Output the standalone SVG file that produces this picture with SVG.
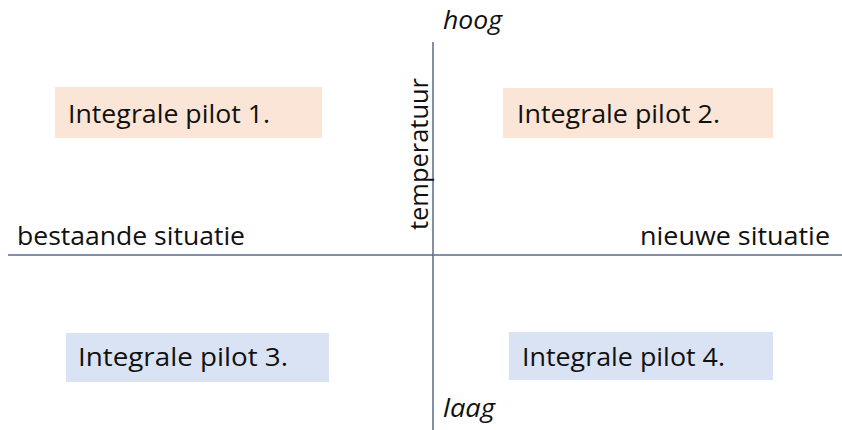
<svg xmlns="http://www.w3.org/2000/svg" width="842" height="430" viewBox="0 0 842 430">
  <style>
    text { font-family: "Open Sans", "Liberation Sans", sans-serif; font-size: 25px; fill: #111111; }
    .it { font-style: italic; }
    .warm { fill: #fbe5d6; }
    .cool { fill: #dae3f3; }
    .axis { stroke: #5b6b8c; stroke-width: 1.5; fill: none; }
  </style>
  <rect width="842" height="430" fill="#ffffff"/>
  <g id="connectors">
    <line class="axis" x1="8" y1="255" x2="842" y2="255"/>
    <line class="axis" x1="433" y1="42" x2="433" y2="430"/>
  </g>
  <g id="pilot1">
    <rect class="warm" x="55" y="87" width="267" height="51"/>
    <text x="68" y="123" textLength="202" lengthAdjust="spacingAndGlyphs">Integrale pilot 1.</text>
  </g>
  <g id="pilot2">
    <rect class="warm" x="503" y="88" width="270" height="50"/>
    <text x="517" y="123" textLength="203" lengthAdjust="spacingAndGlyphs">Integrale pilot 2.</text>
  </g>
  <g id="pilot3">
    <rect class="cool" x="66" y="333" width="263" height="49"/>
    <text x="78" y="366" textLength="210" lengthAdjust="spacingAndGlyphs">Integrale pilot 3.</text>
  </g>
  <g id="pilot4">
    <rect class="cool" x="509" y="332" width="264" height="48"/>
    <text x="522" y="366" textLength="203" lengthAdjust="spacingAndGlyphs">Integrale pilot 4.</text>
  </g>
  <g id="labels">
    <text x="17" y="245" textLength="228" lengthAdjust="spacingAndGlyphs">bestaande situatie</text>
    <text x="640" y="245" textLength="190" lengthAdjust="spacingAndGlyphs">nieuwe situatie</text>
    <text class="it" x="443" y="29" textLength="59" lengthAdjust="spacingAndGlyphs">hoog</text>
    <text class="it" x="443" y="417" textLength="52" lengthAdjust="spacingAndGlyphs">laag</text>
    <text transform="translate(428,230) rotate(-90)" x="0" y="0" textLength="152" lengthAdjust="spacingAndGlyphs">temperatuur</text>
  </g>
</svg>
